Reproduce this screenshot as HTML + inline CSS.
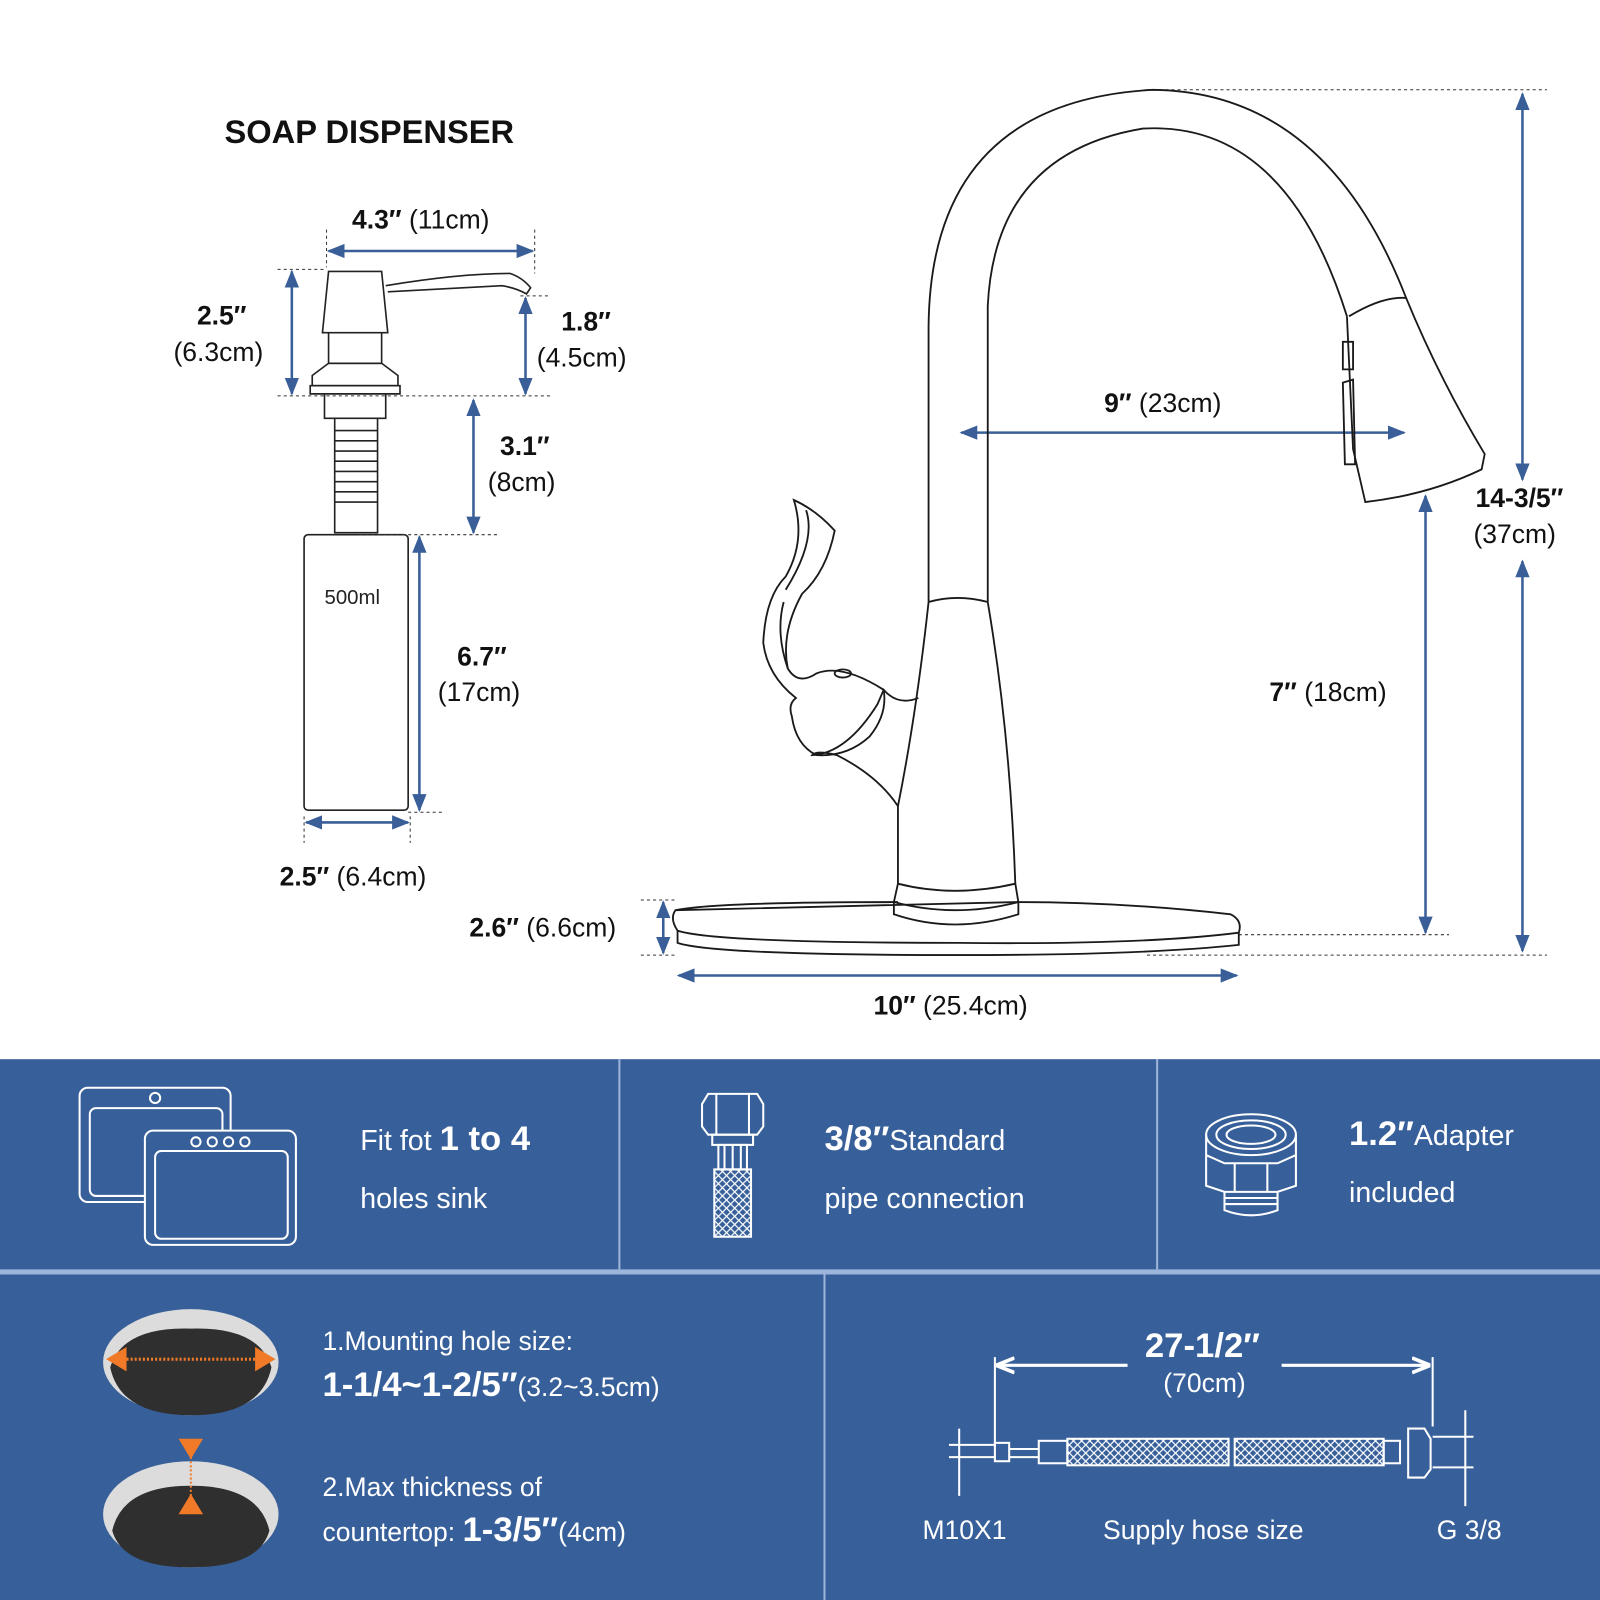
<!DOCTYPE html>
<html><head><meta charset="utf-8"><style>
html,body{margin:0;padding:0;background:#fff;}
svg{display:block;font-family:"Liberation Sans",sans-serif;}
</style></head><body>
<svg width="1600" height="1600" viewBox="0 0 1568 1568" xmlns="http://www.w3.org/2000/svg">
<defs>
<marker id="a" viewBox="0 0 10 10" refX="9" refY="5" markerWidth="7" markerHeight="7" orient="auto-start-reverse"><path d="M0,1 L10,5 L0,9 z" fill="#3a5f98"/></marker>
<marker id="w" viewBox="0 0 10 10" refX="9" refY="5" markerWidth="6" markerHeight="6" orient="auto-start-reverse"><path d="M0,1 L10,5 L0,9" fill="none" stroke="#fff" stroke-width="2"/></marker>
<pattern id="br" width="8" height="8" patternUnits="userSpaceOnUse"><path d="M0,8 L8,0 M0,0 L8,8" stroke="#fff" stroke-width="1.2"/></pattern>
</defs>
<rect width="1568" height="1568" fill="#fff"/>
<!-- Soap dispenser -->
<text x="220" y="140" font-size="32" font-weight="bold" fill="#111">SOAP DISPENSER</text>
<g fill="none" stroke="#222" stroke-width="1.6">
<path d="M322,266 L374,266 L380,326 L316,326 Z"/>
<path d="M378,280 Q450,268 500,268 Q512,272 520,282 L516,288 Q505,282 492,280 L380,286"/>
<path d="M322,326 L322,356 L374,356 L374,326"/>
<path d="M306,368 L322,356 L374,356 L390,368 L390,378 L306,378 Z"/>
<path d="M304,378 L392,378 L392,386 L304,386 Z"/>
<path d="M318,386 L318,410 L378,410 L378,386"/>
<path d="M328,410 L328,522 L370,522 L370,410"/>
<path d="M328,422 H370 M328,432 H370 M328,442 H370 M328,452 H370 M328,462 H370 M328,472 H370 M328,482 H370 M328,492 H370"/>
<rect x="298" y="524" width="102" height="270" rx="4"/>
</g>
<text x="318" y="592" font-size="20" fill="#222">500ml</text>
<g stroke="#333" stroke-width="1" stroke-dasharray="3,3" fill="none">
<path d="M320,225 V262 M524,225 V268 M272,264 H320 M272,388 H540 M510,290 H540 M352,524 H488 M400,796 H436 M298,800 V826 M402,800 V826"/>
</g>
<g stroke="#3a5f98" stroke-width="2.5" fill="none" marker-start="url(#a)" marker-end="url(#a)">
<line x1="322" y1="246" x2="522" y2="246"/>
<line x1="286" y1="266" x2="286" y2="386"/>
<line x1="515" y1="292" x2="515" y2="386"/>
<line x1="464" y1="392" x2="464" y2="522"/>
<line x1="411" y1="526" x2="411" y2="794"/>
<line x1="300" y1="806" x2="400" y2="806"/>
<line x1="650" y1="884" x2="650" y2="934"/>
<line x1="665" y1="956" x2="1212" y2="956"/>
<line x1="942" y1="424" x2="1376" y2="424"/>
<line x1="1397" y1="486" x2="1397" y2="914"/>
<line x1="1492" y1="92" x2="1492" y2="470"/>
<line x1="1492" y1="550" x2="1492" y2="932"/>
</g>
<g font-size="26" fill="#111">
<text x="345" y="224"><tspan font-weight="bold">4.3″</tspan> (11cm)</text>
<text x="193" y="318" font-weight="bold">2.5″</text><text x="170" y="354">(6.3cm)</text>
<text x="550" y="324" font-weight="bold">1.8″</text><text x="526" y="359">(4.5cm)</text>
<text x="490" y="446" font-weight="bold">3.1″</text><text x="478" y="481">(8cm)</text>
<text x="448" y="652" font-weight="bold">6.7″</text><text x="429" y="687">(17cm)</text>
<text x="274" y="868"><tspan font-weight="bold">2.5″</tspan> (6.4cm)</text>
<text x="460" y="918"><tspan font-weight="bold">2.6″</tspan> (6.6cm)</text>
<text x="856" y="994"><tspan font-weight="bold">10″</tspan> (25.4cm)</text>
<text x="1082" y="404"><tspan font-weight="bold">9″</tspan> (23cm)</text>
<text x="1244" y="687"><tspan font-weight="bold">7″</tspan> (18cm)</text>
<text x="1446" y="497" font-weight="bold">14-3/5″</text><text x="1444" y="532">(37cm)</text>
</g>
<!-- faucet -->
<g stroke="#333" stroke-width="1" stroke-dasharray="3,3" fill="none">
<path d="M1124,88 H1516 M1124,936 H1516 M1214,916 H1420 M628,882 H664 M628,936 H664"/>
</g>
<g fill="none" stroke="#1a1a1a" stroke-width="1.8">
<path d="M910,590 L910,320 Q912,100 1130,88 Q1300,90 1378,292 Q1410,370 1455,445 L1452,460 Q1400,485 1338,492 L1326,440 L1320,310"/>
<path d="M968,590 L968,300 Q975,150 1120,126 Q1260,118 1320,310"/>
<path d="M1322,310 Q1355,290 1378,292"/>
<path d="M1316,335 L1326,335 L1326,362 L1316,362 Z M1316,375 L1326,372 L1328,455 L1318,455 Z"/>
<path d="M910,590 Q938,582 968,590"/>
<path d="M910,590 Q898,700 880,790 L880,866 M968,590 Q990,720 995,866"/>
<path d="M880,866 Q935,880 995,866 L998,884 Q935,900 876,884 Z"/>
<path d="M876,884 L876,896 Q935,916 998,896 L998,884"/>
<path d="M662,892 Q700,884 880,884 M998,884 Q1100,884 1206,896 Q1218,902 1214,914 Q1120,926 940,924 Q700,924 664,912 Q656,900 662,892 Z"/>
<path d="M664,912 L664,924 Q700,936 940,936 Q1120,936 1214,926 L1214,914"/>
<path d="M880,790 Q860,760 820,740 Q800,735 796,740 Q830,738 860,690 L866,676 Q880,692 900,684"/>
<path d="M778,490 Q800,500 818,520 Q810,560 786,582 Q765,620 772,655 Q782,672 800,660 Q825,650 866,676 Q870,700 852,722 Q830,742 800,740 Q780,730 776,702 Q772,690 780,684 Q752,662 748,630 Q750,585 770,565 Q790,530 778,490 Z"/>
<path d="M790,500 Q800,530 770,578 M772,655 Q760,620 768,590"/>
<ellipse cx="826" cy="660" rx="8" ry="4"/>
</g>
<!-- bottom panels -->
<rect x="0" y="1038" width="1568" height="530" fill="#375f99"/>
<rect x="0" y="1244" width="1568" height="5" fill="#9db5da"/>
<rect x="606" y="1038" width="2" height="206" fill="#9db5da"/>
<rect x="1133" y="1038" width="2" height="206" fill="#9db5da"/>
<rect x="807" y="1249" width="2" height="319" fill="#9db5da"/>
<g fill="none" stroke="#fff" stroke-width="2">
<rect x="78" y="1066" width="148" height="112" rx="8"/><rect x="88" y="1086" width="130" height="86" rx="6"/>
<circle cx="152" cy="1076" r="5"/>
<rect x="142" y="1108" width="148" height="112" rx="8" fill="#375f99"/><rect x="152" y="1128" width="130" height="86" rx="6"/>
<circle cx="192" cy="1119" r="4.5"/><circle cx="208" cy="1119" r="4.5"/><circle cx="224" cy="1119" r="4.5"/><circle cx="240" cy="1119" r="4.5"/>
<path d="M694,1072 L742,1072 L748,1082 L748,1104 L742,1112 L694,1112 L688,1104 L688,1082 Z M702,1072 V1112 M734,1072 V1112"/>
<rect x="698" y="1112" width="40" height="10"/><rect x="704" y="1122" width="28" height="24"/>
<path d="M710,1122 V1146 M718,1122 V1146 M726,1122 V1146"/>
<rect x="700" y="1146" width="36" height="66" fill="url(#br)"/>
<ellipse cx="1226" cy="1112" rx="44" ry="20"/><ellipse cx="1226" cy="1112" rx="34" ry="14"/><ellipse cx="1226" cy="1112" rx="24" ry="9"/>
<path d="M1182,1112 V1162 L1200,1168 H1252 L1270,1162 V1112 M1182,1132 L1200,1140 H1252 L1270,1132 M1210,1140 V1168 M1242,1140 V1168"/>
<path d="M1200,1168 V1186 Q1226,1196 1252,1186 V1168 M1200,1174 H1252 M1200,1180 H1252"/>
</g>
<g fill="#fff" font-size="28">
<text x="353" y="1127">Fit fot <tspan font-weight="bold" font-size="34">1 to 4</tspan></text>
<text x="353" y="1184">holes sink</text>
<text x="808" y="1127"><tspan font-weight="bold" font-size="34">3/8″</tspan>Standard</text>
<text x="808" y="1184">pipe connection</text>
<text x="1322" y="1122"><tspan font-weight="bold" font-size="34">1.2″</tspan>Adapter</text>
<text x="1322" y="1178">included</text>
<text x="316" y="1323" font-size="26">1.Mounting hole size:</text>
<text x="316" y="1368"><tspan font-weight="bold" font-size="34">1-1/4~1-2/5″</tspan><tspan font-size="26">(3.2~3.5cm)</tspan></text>
<text x="316" y="1466" font-size="26">2.Max thickness of</text>
<text x="316" y="1510"><tspan font-size="26">countertop: </tspan><tspan font-weight="bold" font-size="34">1-3/5″</tspan><tspan font-size="26">(4cm)</tspan></text>
<text x="1122" y="1330" font-weight="bold" font-size="34">27-1/2″</text>
<text x="1140" y="1364" font-size="26">(70cm)</text>
<text x="904" y="1508" font-size="26">M10X1</text>
<text x="1081" y="1508" font-size="26">Supply hose size</text>
<text x="1408" y="1508" font-size="26">G 3/8</text>
</g>
<!-- hole icons -->
<ellipse cx="187" cy="1335" rx="86" ry="52" fill="#dcdcdc"/>
<path d="M108,1340 Q120,1300 187,1302 Q254,1300 266,1340 Q256,1387 187,1387 Q118,1387 108,1340 Z" fill="#2f2f2f"/>
<line x1="112" y1="1332" x2="262" y2="1332" stroke="#f07a28" stroke-width="3" stroke-dasharray="2,2"/>
<path d="M104,1332 L124,1320 L124,1344 Z M270,1332 L250,1320 L250,1344 Z" fill="#f07a28"/>
<ellipse cx="187" cy="1484" rx="86" ry="52" fill="#dcdcdc"/>
<path d="M110,1500 Q120,1456 187,1456 Q254,1456 264,1500 Q254,1536 187,1536 Q120,1536 110,1500 Z" fill="#2f2f2f"/>
<line x1="187" y1="1428" x2="187" y2="1470" stroke="#f07a28" stroke-width="2" stroke-dasharray="2,2"/>
<path d="M175,1410 L199,1410 L187,1430 Z M175,1484 L199,1484 L187,1464 Z" fill="#f07a28"/>
<!-- hose -->
<g stroke="#fff" stroke-width="2" fill="none">
<path d="M975,1330 V1418 M1404,1330 V1398"/>
<line x1="978" y1="1338" x2="1105" y2="1338" marker-start="url(#w)" stroke-width="3"/>
<line x1="1256" y1="1338" x2="1400" y2="1338" marker-end="url(#w)" stroke-width="3"/>
<path d="M940,1400 V1466 M1436,1382 V1476"/>
<path d="M930,1416 H975 M930,1428 H975 M1404,1408 H1444 M1404,1438 H1444"/>
<rect x="975" y="1414" width="14" height="18"/><rect x="1018" y="1412" width="28" height="22"/>
<rect x="1046" y="1410" width="158" height="26" fill="url(#br)"/>
<rect x="1210" y="1410" width="146" height="26" fill="url(#br)"/>
<rect x="1356" y="1412" width="16" height="22"/>
<path d="M1380,1400 L1396,1400 L1402,1410 L1402,1440 L1396,1448 L1380,1448 Z"/>
<path d="M989,1420 H1018 M989,1428 H1018"/>
</g>
</svg>
</body></html>
